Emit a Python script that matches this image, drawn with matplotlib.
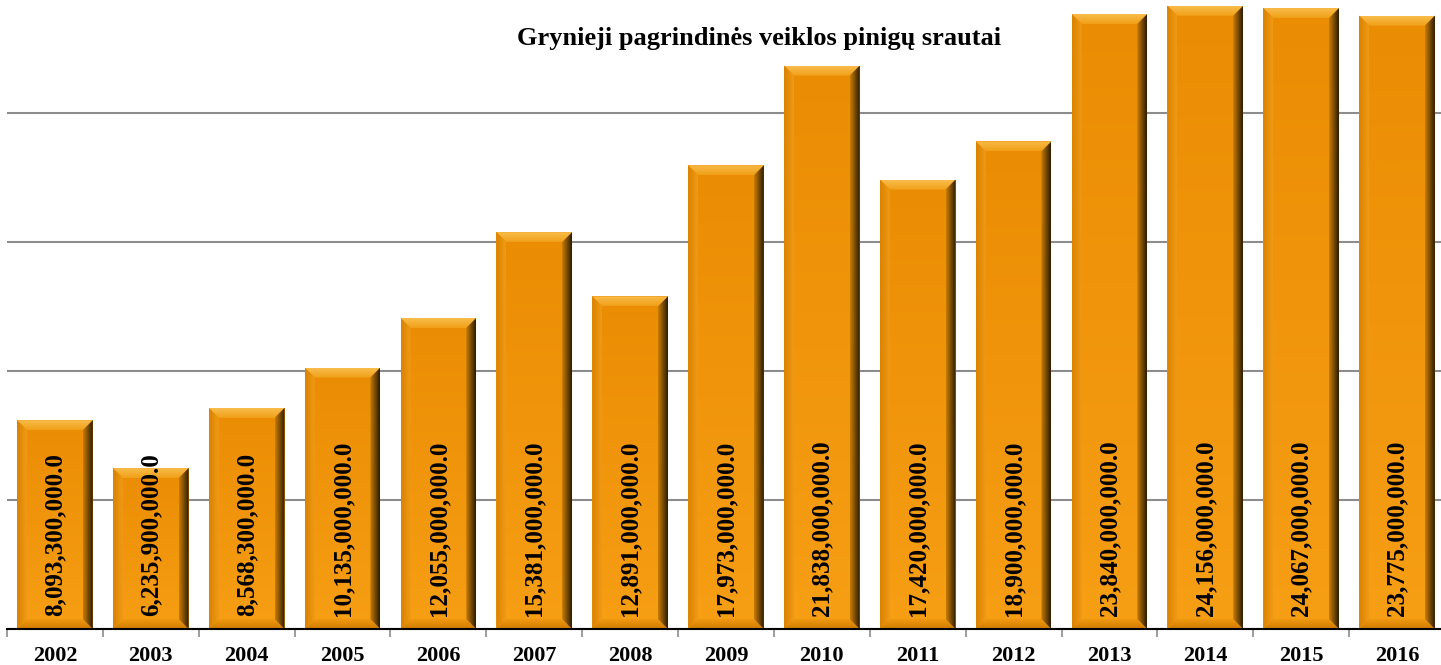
import matplotlib.pyplot as plt
import matplotlib.ticker
import numpy as np
from matplotlib.colors import LinearSegmentedColormap
from matplotlib.patches import Polygon

years = ["2002", "2003", "2004", "2005", "2006", "2007", "2008", "2009",
         "2010", "2011", "2012", "2013", "2014", "2015", "2016"]
values = [8093300000.0, 6235900000.0, 8568300000.0, 10135000000.0, 12055000000.0,
          15381000000.0, 12891000000.0, 17973000000.0, 21838000000.0, 17420000000.0,
          18900000000.0, 23840000000.0, 24156000000.0, 24067000000.0, 23775000000.0]
title = "Grynieji pagrindinės veiklos pinigų srautai"

plt.rcParams["font.family"] = ["Liberation Serif", "DejaVu Serif"]

fig = plt.figure(figsize=(14.41, 6.65), dpi=100)
ax = fig.add_axes([7 / 1441, 36 / 665, 1438 / 1441, 629 / 665])

ymax = 629 / 129 * 5e9
width = 0.79
bx = 10 / 95.87          # bevel width in data units
by = 10 * 5e9 / 129      # bevel height in data units


def grad(verts, c1, c2, extent, horizontal, z):
    poly = Polygon(verts, closed=True, facecolor="none", edgecolor="none", zorder=z)
    ax.add_patch(poly)
    cmap = LinearSegmentedColormap.from_list("g", [c1, c2])
    g = np.linspace(0, 1, 64)
    arr = g[None, :] if horizontal else g[:, None]
    im = ax.imshow(arr, cmap=cmap, extent=extent, aspect="auto",
                   origin="lower", interpolation="bilinear", zorder=z)
    im.set_clip_path(poly)


x = np.arange(len(years))
for xi, v in zip(x, values):
    l, r = xi - width / 2, xi + width / 2
    t, b = v, 0
    # face
    grad([(l, b), (r, b), (r, t), (l, t)], "#F69E14", "#EB8D04",
         (l, r, b, t), False, 2)
    # top bevel
    grad([(l, t), (r, t), (r - bx, t - by), (l + bx, t - by)], "#F0A018", "#F9BC4C",
         (l, r, t - by, t), False, 3)
    # bottom bevel
    grad([(l, b), (r, b), (r - bx, b + by), (l + bx, b + by)], "#D07C00", "#F09810",
         (l, r, b, b + by), False, 3)
    # left bevel
    grad([(l, b), (l + bx, b + by), (l + bx, t - by), (l, t)], "#D88200", "#F09A16",
         (l, l + bx, b, t), True, 3)
    # right bevel
    grad([(r, b), (r - bx, b + by), (r - bx, t - by), (r, t)], "#C87E00", "#2E1C00",
         (r - bx, r, b, t), True, 3)
    ax.text(xi, 0.52e9, f"{v:,.1f}", rotation=90, ha="center", va="bottom",
            fontsize=18, fontweight="bold", color="black", zorder=5)

ax.set_xlim(-0.5, len(years) - 0.5)
ax.set_ylim(0, ymax)

ax.yaxis.set_major_locator(matplotlib.ticker.MultipleLocator(5e9))
ax.yaxis.grid(True, color="#8c8c8c", linewidth=1.5)
ax.set_axisbelow(True)
ax.tick_params(axis="y", left=False, labelleft=False)

ax.set_xticks(x)
ax.set_xticklabels(years, fontsize=16, fontweight="bold")
ax.set_xticks(np.arange(-0.5, len(years)), minor=True)
ax.tick_params(axis="x", which="major", length=0, pad=12)
ax.tick_params(axis="x", which="minor", length=6, color="#8c8c8c", width=1.2)

for s in ["left", "right", "top"]:
    ax.spines[s].set_visible(False)
ax.spines["bottom"].set_color("black")
ax.spines["bottom"].set_linewidth(1.5)
ax.spines["bottom"].set_zorder(6)

fig.text(759 / 1441, 1 - 38 / 665, title, ha="center", va="center",
         fontsize=19, fontweight="bold")

fig.savefig("out.png", dpi=100)
